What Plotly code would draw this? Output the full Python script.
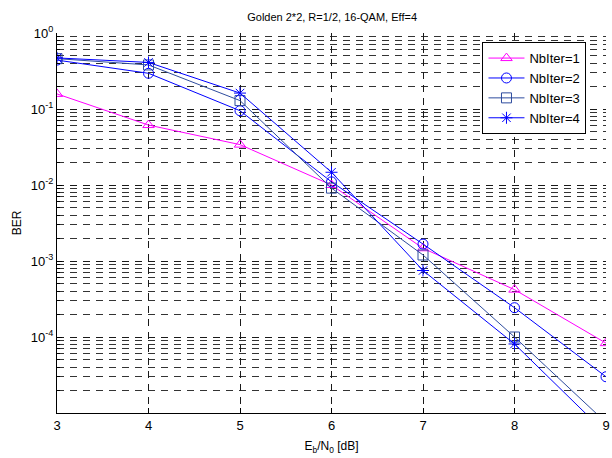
import plotly.graph_objects as go

# Data
ebn0 = [3, 4, 5, 6, 7, 8, 9]
ber_iter1 = [0.158, 0.0615, 0.0340, 0.0100, 0.00147, 0.00042, 0.000083]
ber_iter2 = [0.44, 0.295, 0.095, 0.0110, 0.00167, 0.000243, 0.000030]
ber_iter3 = [0.46, 0.38, 0.129, 0.0091, 0.00120, 0.000100, 0.0000075]
ber_iter4 = [0.47, 0.41, 0.162, 0.0147, 0.00075, 0.000081, 0.0000054]

series_names = ["NbIter=1", "NbIter=2", "NbIter=3", "NbIter=4"]
series_colors = ["#FF00FF", "#0000FF", "#2E4C9E", "#0000FF"]
series_symbols = ["triangle-up-open", "circle-open", "square-open", "asterisk-open"]

y_tickvals = [1e-4, 1e-3, 1e-2, 1e-1, 1e0]
y_ticktext = ["10<sup>-4</sup>", "10<sup>-3</sup>", "10<sup>-2</sup>", "10<sup>-1</sup>", "10<sup>0</sup>"]
x_tickvals = [3, 4, 5, 6, 7, 8, 9]

minor_y = [m * 10.0 ** e for e in range(-5, 0) for m in range(2, 10)]

fig = go.Figure()
for name, ys, col, sym in zip(series_names,
                              [ber_iter1, ber_iter2, ber_iter3, ber_iter4],
                              series_colors, series_symbols):
    fig.add_trace(go.Scatter(
        x=ebn0, y=ys, name=name, mode="lines+markers",
        line=dict(color=col, width=1),
        marker=dict(symbol=sym, size=10, color=col, line=dict(color=col, width=1)),
        cliponaxis=True,
    ))

grid_col = "#1a1a1a"
fig.update_layout(
    width=612, height=458,
    margin=dict(l=57, r=6, t=33, b=45),
    paper_bgcolor="white", plot_bgcolor="white",
    font=dict(family="Liberation Sans, Arial, sans-serif", size=12, color="black"),
    title=dict(text="Golden 2*2, R=1/2, 16-QAM, Eff=4", x=0.5427, xanchor="center",
               y=0.962, yanchor="middle", font=dict(size=11)),
    showlegend=True,
    legend=dict(x=0.775, y=0.976, xanchor="left", yanchor="top",
                bgcolor="white", bordercolor="black", borderwidth=1,
                font=dict(size=13), itemwidth=36, tracegroupgap=0),
)
fig.update_xaxes(
    range=[3, 9], tickvals=x_tickvals, ticks="inside", ticklen=5, tickcolor="black",
    showline=True, linecolor="black", linewidth=1, mirror=False,
    showgrid=True, gridcolor=grid_col, griddash="7px,6px", gridwidth=1,
    zeroline=False, automargin=False,
    title=dict(text="E<sub>b</sub>/N<sub>0</sub> [dB]", font=dict(size=12), standoff=10),
    tickfont=dict(size=13),
)
fig.update_yaxes(
    type="log", range=[-5, 0], tickvals=y_tickvals, ticktext=y_ticktext,
    ticks="inside", ticklen=5, tickcolor="black",
    showline=True, linecolor="black", linewidth=1, mirror=False,
    showgrid=True, gridcolor=grid_col, griddash="7px,6px", gridwidth=1,
    zeroline=False, automargin=False,
    minor=dict(tickvals=minor_y, ticks="inside", ticklen=3, tickcolor="black",
               showgrid=True, gridcolor="#333333", griddash="7px,6px", gridwidth=1),
    title=dict(text="BER", font=dict(size=12), standoff=6),
    tickfont=dict(size=13),
)

fig.write_html("out.html",
               config={"displayModeBar": False},
               post_script="document.body.style.margin='0';document.body.style.padding='0';")
